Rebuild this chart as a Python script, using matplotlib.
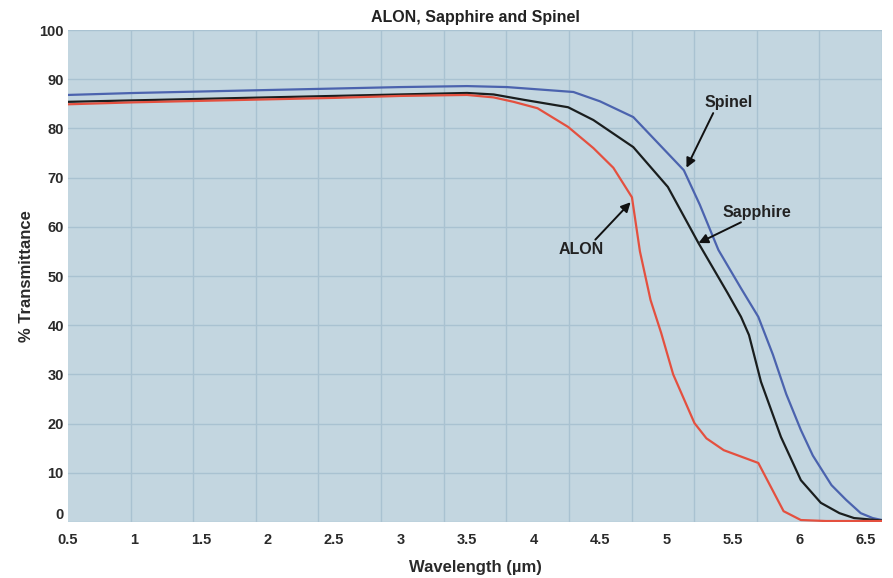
import numpy as np
import matplotlib
matplotlib.use("Agg")
import matplotlib.pyplot as plt

plt.rcParams['font.family'] = ['Liberation Sans Narrow', 'Liberation Sans', 'DejaVu Sans']

# Data (wavelength in µm, % transmittance)
spinel_x = [0.5, 1.0, 1.5, 2.0, 2.5, 3.0, 3.5, 3.8, 4.0, 4.3, 4.5, 4.75, 5.13, 5.25, 5.39, 5.56,
            5.69, 5.8, 5.9, 6.01, 6.1, 6.24, 6.35, 6.46, 6.55, 6.62]
spinel_y = [86.8, 87.2, 87.5, 87.8, 88.1, 88.4, 88.6, 88.4, 88.0, 87.4, 85.5, 82.3, 71.5, 64.5, 55.3, 47.5,
            41.7, 34.0, 26.0, 18.7, 13.5, 7.5, 4.5, 1.8, 0.8, 0.4]

sapphire_x = [0.5, 1.0, 1.5, 2.0, 2.5, 3.0, 3.5, 3.7, 3.93, 4.26, 4.45, 4.75, 5.01, 5.24, 5.46, 5.56,
              5.62, 5.71, 5.86, 6.01, 6.16, 6.3, 6.41, 6.62]
sapphire_y = [85.4, 85.7, 86.0, 86.3, 86.6, 86.9, 87.2, 86.9, 85.8, 84.3, 81.7, 76.2, 68.1, 56.7, 46.5, 41.7,
              38.0, 28.5, 17.3, 8.5, 3.9, 1.8, 0.8, 0.3]

alon_x = [0.5, 1.0, 1.5, 2.0, 2.5, 3.0, 3.5, 3.7, 3.85, 4.03, 4.26, 4.45, 4.6, 4.74, 4.8, 4.88,
          4.96, 5.05, 5.21, 5.3, 5.43, 5.69, 5.88, 6.01, 6.2, 6.62]
alon_y = [84.9, 85.3, 85.6, 85.9, 86.2, 86.6, 86.8, 86.3, 85.4, 84.1, 80.3, 76.0, 72.0, 66.0, 55.0, 45.1,
          38.4, 30.0, 20.1, 17.0, 14.6, 12.0, 2.2, 0.4, 0.2, 0.2]

x_ticks = [0.5, 1, 1.5, 2, 2.5, 3, 3.5, 4, 4.5, 5, 5.5, 6, 6.5]
x_tick_labels = ["0.5", "1", "1.5", "2", "2.5", "3", "3.5", "4", "4.5", "5", "5.5", "6", "6.5"]
y_ticks = [0, 10, 20, 30, 40, 50, 60, 70, 80, 90, 100]

XMIN, XMAX = 0.5, 6.62

fig = plt.figure(figsize=(8.93, 5.78), dpi=100)
fig.patch.set_facecolor('white')
ax = fig.add_axes([68/893, 1-522/578, (882-68)/893, (522-30)/578])
ax.set_facecolor('#c3d6e0')

ax.plot(spinel_x, spinel_y, color='#4b63ae', lw=1.6, zorder=3)
ax.plot(sapphire_x, sapphire_y, color='#1a1e1e', lw=1.6, zorder=4)
ax.plot(alon_x, alon_y, color='#e4503f', lw=1.6, zorder=5)

ax.set_xlim(XMIN, XMAX)
ax.set_ylim(0, 100)
ax.set_xticks(x_ticks)
ax.set_xticklabels(x_tick_labels)
ax.set_yticks(y_ticks)
# vertical grid divides the plot in 13 equal cells (as in the original figure)
ax.set_xticks(np.linspace(XMIN, XMAX, 14), minor=True)
ax.grid(False)
ax.grid(True, which='minor', axis='x', color='#a9c2d1', lw=1.0)
ax.grid(True, which='major', axis='y', color='#a9c2d1', lw=1.0)
ax.set_axisbelow(True)
ax.tick_params(which='both', length=0)
ax.tick_params(axis='x', pad=8)
ax.tick_params(axis='y', pad=3)
for lab in ax.get_xticklabels() + ax.get_yticklabels():
    lab.set_fontsize(10.5)
    lab.set_fontweight('bold')
    lab.set_color('#2a2a2a')
ax.get_yticklabels()[0].set_va('bottom')
for s in ax.spines.values():
    s.set_visible(False)

ax.set_title("ALON, Sapphire and Spinel", fontsize=11.5, fontweight='bold', color='#222222', pad=6)
ax.set_xlabel("Wavelength (µm)", fontsize=12, fontweight='bold', color='#2a2a2a', labelpad=9)
ax.set_ylabel("% Transmittance", fontsize=12, fontweight='bold', color='#2a2a2a', labelpad=4)

arrow = dict(arrowstyle='-|>', color='#111111', lw=1.4, mutation_scale=14, shrinkA=0, shrinkB=0)
ax.annotate("Spinel", xy=(5.15, 72.0), xytext=(5.47, 85.2), ha='center', va='center',
            fontsize=11.5, fontweight='bold', color='#222222', arrowprops=dict(arrow, relpos=(0.2, 0.0)))
ax.annotate("Sapphire", xy=(5.24, 56.7), xytext=(5.68, 63.0), ha='center', va='center',
            fontsize=11.5, fontweight='bold', color='#222222', arrowprops=dict(arrow, relpos=(0.35, 0.0)))
ax.annotate("ALON", xy=(4.73, 65.0), xytext=(4.36, 55.3), ha='center', va='center',
            fontsize=11.5, fontweight='bold', color='#222222', arrowprops=dict(arrow, relpos=(0.75, 1.0)))

fig.savefig("out.png", dpi=100, facecolor='white')
